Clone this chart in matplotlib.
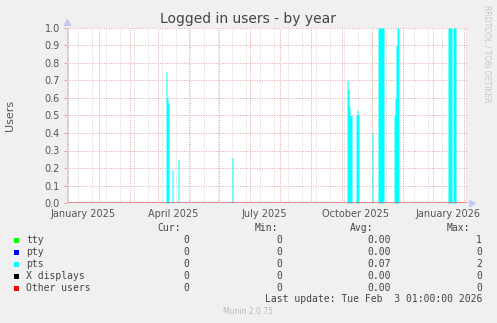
import datetime as dt

import matplotlib

matplotlib.use("Agg")
import matplotlib.dates as mdates
import matplotlib.pyplot as plt
import numpy as np
import pandas as pd
from matplotlib.patches import Rectangle

# pts sessions (days with logins)
pts_dates = ["2025-03-09", "2025-03-10", "2025-03-11", "2025-03-15", "2025-03-21",
             "2025-05-14",
             "2025-09-06", "2025-09-07", "2025-09-08", "2025-09-09", "2025-09-10",
             "2025-09-15", "2025-09-16", "2025-09-17",
             "2025-10-01",
             "2025-10-07", "2025-10-08", "2025-10-09", "2025-10-10", "2025-10-11", "2025-10-12",
             "2025-10-23", "2025-10-24", "2025-10-25", "2025-10-26", "2025-10-27",
             "2025-12-16", "2025-12-17", "2025-12-18", "2025-12-19",
             "2025-12-21", "2025-12-22", "2025-12-23"]
pts_values = [0.75, 0.6, 0.57, 0.19, 0.25,
              0.26,
              0.7, 0.65, 0.55, 0.5, 0.5,
              0.5, 0.53, 0.5,
              0.4,
              1.0, 1.0, 1.0, 1.0, 1.0, 1.0,
              0.5, 0.6, 0.9, 1.0, 1.0,
              1.0, 1.0, 1.0, 1.0,
              1.0, 1.0, 1.0]

x_labels = ["January 2025", "April 2025", "July 2025", "October 2025", "January 2026"]
x_label_months = ["2025-01-01", "2025-04-01", "2025-07-01", "2025-10-01", "2026-01-01"]
y_ticks = [0.0, 0.1, 0.2, 0.3, 0.4, 0.5, 0.6, 0.7, 0.8, 0.9, 1.0]

legend_names = ["tty", "pty", "pts", "X displays", "Other users"]
legend_colors = ["#00ff00", "#0000ff", "#00ffff", "#000000", "#ff0000"]
cur_values = ["0", "0", "0", "0", "0"]
min_values = ["0", "0", "0", "0", "0"]
avg_values = ["0.00", "0.00", "0.07", "0.00", "0.00"]
max_values = ["1", "0", "2", "0", "0"]

W, H = 497, 323
BG = "#f0f0f0"

fig = plt.figure(figsize=(W / 100, H / 100), dpi=100, facecolor=BG)
ax = fig.add_axes([67 / W, (H - 203) / H, 400 / W, 175 / H])
ax.set_facecolor("white")

start = dt.datetime(2024, 11, 30)
end = dt.datetime(2026, 1, 4)
ax.set_xlim(start, end)
ax.set_ylim(0, 1)

# grids
minor = pd.date_range("2024-12-11", end, freq="14D")
for d in minor:
    ax.axvline(d, color="#d4d4d4", lw=0.7, ls=(0, (1, 1.5)), zorder=1)
for d in pd.date_range("2024-12-01", end, freq="MS"):
    ax.axvline(d, color="#e6a0a0", lw=0.7, ls=(0, (1, 1.5)), zorder=2)
for y in y_ticks[1:]:
    ax.axhline(y, color="#e6a0a0", lw=0.7, ls=(0, (1, 1.5)), zorder=2)

# pts area
days = pd.date_range(start, end, freq="D")
vals = np.zeros(len(days))
for d, v in zip(pd.to_datetime(pts_dates), pts_values):
    vals[days.get_loc(d)] = v
ax.fill_between(days, vals, step="post", color="#00ffff", lw=0, zorder=3)

# other users line at zero
ax.plot([start, end], [0, 0], color="#e07070", lw=1.2, zorder=4)

for s in ax.spines.values():
    s.set_visible(False)
ax.axvline(start, color="#c8c8f0", lw=1, zorder=5)
ax.axvline(end, color="#909090", lw=1, zorder=5)
ax.plot(0, 1.035, marker="^", ms=4, color="#c8c8f0", transform=ax.transAxes, clip_on=False)
ax.plot(1.012, 0, marker=">", ms=4, color="#c8c8f0", transform=ax.transAxes, clip_on=False)

ax.set_yticks(y_ticks)
ax.set_yticklabels([f"{v:.1f}" for v in y_ticks])
label_pos = [mdates.date2num(pd.Timestamp(m)) - 16 for m in x_label_months]
ax.set_xticks(label_pos)
ax.set_xticklabels(x_labels)
ax.tick_params(axis="y", length=2, color="#e6a0a0", labelsize=7, labelcolor="#555555", pad=3)
ax.tick_params(axis="x", length=0, labelsize=7, labelcolor="#555555", pad=4)

fig.text(248 / W, 1 - 19 / H, "Logged in users - by year", ha="center", va="center",
         fontsize=10, color="#444444")
fig.text(10 / W, 1 - 115 / H, "Users", rotation=90, ha="center", va="center",
         fontsize=8, color="#555555")
fig.text(487 / W, 1 - 5 / H, "RRDTOOL / TOBI OETIKER", rotation=270, ha="center", va="top",
         fontsize=5.5, color="#c8c8c8")

mono = "DejaVu Sans Mono"
txt = dict(fontsize=7, color="#444444", family=mono, va="center")
fig.text(181 / W, 1 - 228 / H, "Cur:", ha="right", **txt)
fig.text(278 / W, 1 - 228 / H, "Min:", ha="right", **txt)
fig.text(373 / W, 1 - 228 / H, "Avg:", ha="right", **txt)
fig.text(470 / W, 1 - 228 / H, "Max:", ha="right", **txt)
for i, name in enumerate(legend_names):
    y = 240 + i * 12
    fig.add_artist(Rectangle((14 / W, 1 - (y + 2.5) / H), 5 / W, 5 / H,
                             transform=fig.transFigure, color=legend_colors[i], lw=0))
    fig.text(26 / W, 1 - y / H, name, ha="left", **txt)
    fig.text(189 / W, 1 - y / H, cur_values[i], ha="right", **txt)
    fig.text(282 / W, 1 - y / H, min_values[i], ha="right", **txt)
    fig.text(391 / W, 1 - y / H, avg_values[i], ha="right", **txt)
    fig.text(482 / W, 1 - y / H, max_values[i], ha="right", **txt)
fig.text(482 / W, 1 - 299 / H, "Last update: Tue Feb  3 01:00:00 2026", ha="right", **txt)
fig.text(248 / W, 1 - 312 / H, "Munin 2.0.75", ha="center", va="center",
         fontsize=5.5, color="#bbbbbb")

fig.savefig("out.png", dpi=100, facecolor=BG)
